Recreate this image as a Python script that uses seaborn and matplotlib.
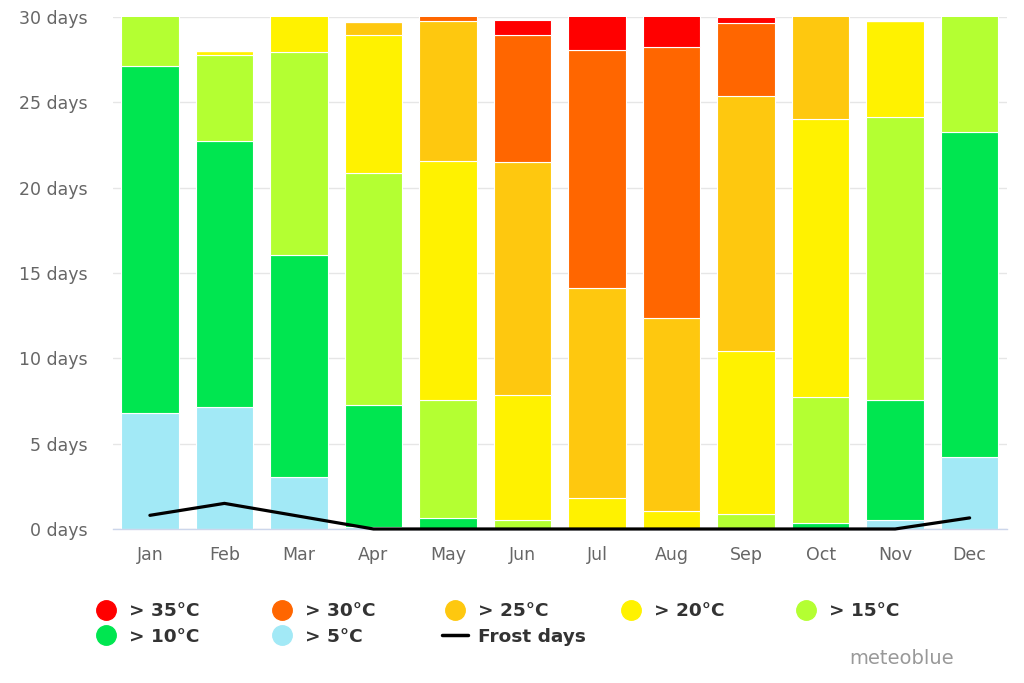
import matplotlib.pyplot as plt
import numpy as np
import seaborn as sns
from matplotlib.lines import Line2D

# Data: days per month with max temperature in each band
months = ["Jan", "Feb", "Mar", "Apr", "May", "Jun",
          "Jul", "Aug", "Sep", "Oct", "Nov", "Dec"]
gt5 = [6.8, 7.15, 3.05, 0.1, 0, 0, 0, 0, 0, 0, 0.5, 4.2]
gt10 = [20.3, 15.6, 13.0, 7.15, 0.65, 0, 0, 0, 0, 0.35, 7.05, 19.05]
gt15 = [3.9, 5.05, 11.9, 13.6, 6.9, 0.5, 0, 0, 0.9, 7.4, 16.6, 7.75]
gt20 = [0, 0.2, 3.05, 8.1, 14.0, 7.35, 1.8, 1.05, 9.5, 16.3, 5.6, 0]
gt25 = [0, 0, 0, 0.75, 8.2, 13.65, 12.3, 11.3, 14.95, 6.95, 0, 0]
gt30 = [0, 0, 0, 0, 1.25, 7.45, 13.95, 15.9, 4.3, 0, 0, 0]
gt35 = [0, 0, 0, 0, 0, 0.9, 2.95, 2.75, 0.35, 0, 0, 0]
frost_days = [0.8, 1.5, 0.75, 0, 0, 0, 0, 0, 0, 0, 0, 0.65]

series_labels = ["> 35°C", "> 30°C", "> 25°C", "> 20°C", "> 15°C", "> 10°C", "> 5°C"]
series_values = [gt35, gt30, gt25, gt20, gt15, gt10, gt5]
series_colors = ["#ff0000", "#ff6600", "#fec80f", "#fff200", "#b4ff32", "#00e650", "#a2e9f6"]

sns.set_style("white")
plt.rcParams["font.family"] = ["DejaVu Sans"]

fig = plt.figure(figsize=(10.24, 6.83), dpi=100)
ax = fig.add_axes([0.110, 0.2255, 0.8733, 0.7496])

# stacked bars, bottom band first
bottom = np.zeros(len(months))
for vals, col in zip(series_values[::-1], series_colors[::-1]):
    sns.barplot(x=months, y=vals, bottom=bottom, color=col, saturation=1,
                width=0.77, edgecolor="white", linewidth=0.8,
                errorbar=None, ax=ax)
    bottom = bottom + np.array(vals)

ax.plot(np.arange(len(months)), frost_days, color="black", linewidth=2.3,
        zorder=5, clip_on=False)

ax.set_ylim(0, 30)
ax.set_xlim(-0.5, 11.5)
ax.set_yticks(range(0, 31, 5))
ax.set_yticklabels([f"{v} days" for v in range(0, 31, 5)])
ax.set_xlabel("")
ax.set_ylabel("")
ax.set_axisbelow(True)
ax.yaxis.grid(True, color="#e6e6e6", linewidth=1)
ax.xaxis.grid(False)
for s in ["top", "right", "left"]:
    ax.spines[s].set_visible(False)
ax.spines["bottom"].set_color("#ccd6eb")
ax.spines["bottom"].set_linewidth(1)
ax.tick_params(axis="y", length=0, pad=18, labelsize=12.5, labelcolor="#666666")
ax.tick_params(axis="x", length=0, pad=12, labelsize=12.5, labelcolor="#666666")

# legend, laid out in fixed-width columns like the original
handles = [Line2D([], [], marker="o", linestyle="none", markersize=14,
                  markerfacecolor=c, markeredgecolor=c, label=l)
           for l, c in zip(series_labels, series_colors)]
handles.append(Line2D([], [], color="black", linewidth=2.5, label="Frost days"))
columns = [[0, 5], [1, 6], [2, 7], [3], [4]]
col_x = [93, 269, 442, 618, 793]
for idx, x in zip(columns, col_x):
    fig.legend(handles=[handles[i] for i in idx], loc="upper left",
               bbox_to_anchor=(x / 1024, 1 - 602 / 683), frameon=False,
               borderpad=0, borderaxespad=0, handlelength=1.4,
               handletextpad=0.55, labelspacing=0.42,
               prop={"size": 13.3, "weight": "bold"}, labelcolor="#333333")

fig.text(954 / 1024, 1 - 658 / 683, "meteoblue", ha="right", va="center",
         fontsize=14, color="#999999")

fig.savefig("out.png", dpi=100)
